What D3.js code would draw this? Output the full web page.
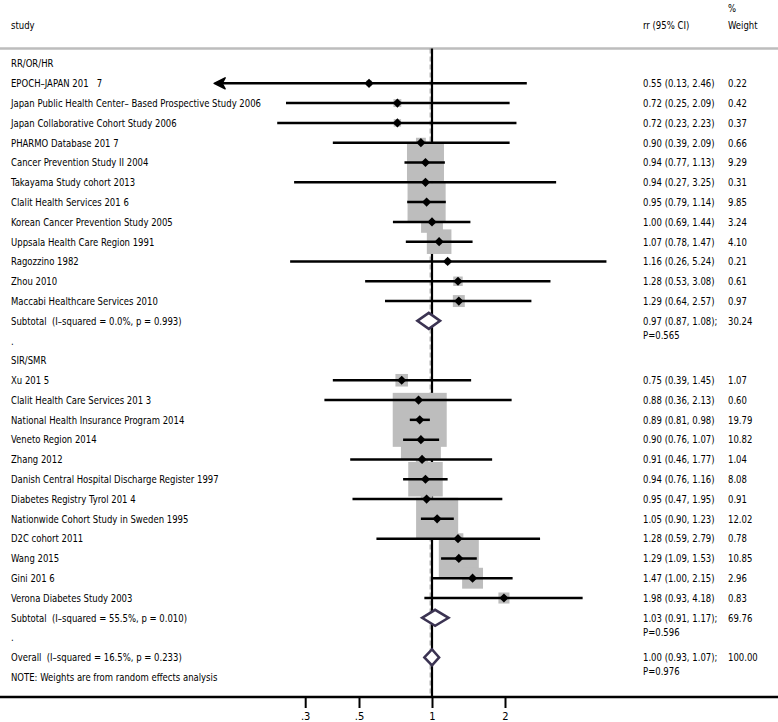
<!DOCTYPE html>
<html>
<head>
<meta charset="utf-8">
<script src="https://cdn.jsdelivr.net/npm/d3@7"></script>
<style>
  html, body { margin: 0; padding: 0; background: #fff; }
  svg text { font-family: "DejaVu Sans Condensed", "DejaVu Sans", sans-serif; font-size: 11px; fill: #000; white-space: pre; }
</style>
</head>
<body>
<svg id="chart" width="778" height="722"></svg>
<script>
// ---------------- DATA ----------------
const group1Title = "RR/OR/HR";
const group1Studies = [
  "EPOCH\u2013JAPAN 201   7",
  "Japan Public Health Center\u2013 Based Prospective Study 2006",
  "Japan Collaborative Cohort Study 2006",
  "PHARMO Database 201 7",
  "Cancer Prevention Study II 2004",
  "Takayama Study cohort 2013",
  "Clalit Health Services 201 6",
  "Korean Cancer Prevention Study 2005",
  "Uppsala Health Care Region 1991",
  "Ragozzino 1982",
  "Zhou 2010",
  "Maccabi Healthcare Services 2010"
];
const group1RR = [0.55, 0.72, 0.72, 0.90, 0.94, 0.94, 0.95, 1.00, 1.07, 1.16, 1.28, 1.29];
const group1Lo = [0.13, 0.25, 0.23, 0.39, 0.77, 0.27, 0.79, 0.69, 0.78, 0.26, 0.53, 0.64];
const group1Hi = [2.46, 2.09, 2.23, 2.09, 1.13, 3.25, 1.14, 1.44, 1.47, 5.24, 3.08, 2.57];
const group1W  = [0.22, 0.42, 0.37, 0.66, 9.29, 0.31, 9.85, 3.24, 4.10, 0.21, 0.61, 0.97];
const group1Sub = { label: "Subtotal  (I\u2013squared = 0.0%, p = 0.993)", rr: 0.97, lo: 0.87, hi: 1.08, p: "P=0.565", w: 30.24 };

const group2Title = "SIR/SMR";
const group2Studies = [
  "Xu 201 5",
  "Clalit Health Care Services 201 3",
  "National Health Insurance Program 2014",
  "Veneto Region 2014",
  "Zhang 2012",
  "Danish Central Hospital Discharge Register 1997",
  "Diabetes Registry Tyrol 201 4",
  "Nationwide Cohort Study in Sweden 1995",
  "D2C cohort 2011",
  "Wang 2015",
  "Gini 201 6",
  "Verona Diabetes Study 2003"
];
const group2RR = [0.75, 0.88, 0.89, 0.90, 0.91, 0.94, 0.95, 1.05, 1.28, 1.29, 1.47, 1.98];
const group2Lo = [0.39, 0.36, 0.81, 0.76, 0.46, 0.76, 0.47, 0.90, 0.59, 1.09, 1.00, 0.93];
const group2Hi = [1.45, 2.13, 0.98, 1.07, 1.77, 1.16, 1.95, 1.23, 2.79, 1.53, 2.15, 4.18];
const group2W  = [1.07, 0.60, 19.79, 10.82, 1.04, 8.08, 0.91, 12.02, 0.78, 10.85, 2.96, 0.83];
const group2Sub = { label: "Subtotal  (I\u2013squared = 55.5%, p = 0.010)", rr: 1.03, lo: 0.91, hi: 1.17, p: "P=0.596", w: 69.76 };

const overall = { label: "Overall  (I\u2013squared = 16.5%, p = 0.233)", rr: 1.00, lo: 0.93, hi: 1.07, p: "P=0.976", w: 100.00 };
const noteText = "NOTE: Weights are from random effects analysis";

const tickValues = [0.3, 0.5, 1, 2];
const tickLabels = [".3", ".5", "1", "2"];
const arrowBelow = 0.15;   // CIs below this are drawn with an arrow

// ---------------- BUILD ROWS ----------------
const fmt = d3.format(".2f");
const rows = [];
rows.push({ type: "title", label: group1Title });
group1Studies.forEach((s, i) => rows.push({ type: "study", label: s, rr: group1RR[i], lo: group1Lo[i], hi: group1Hi[i], w: group1W[i] }));
rows.push(Object.assign({ type: "sum" }, group1Sub));
rows.push({ type: "dot", label: "." });
rows.push({ type: "title", label: group2Title });
group2Studies.forEach((s, i) => rows.push({ type: "study", label: s, rr: group2RR[i], lo: group2Lo[i], hi: group2Hi[i], w: group2W[i] }));
rows.push(Object.assign({ type: "sum" }, group2Sub));
rows.push({ type: "dot", label: "." });
rows.push(Object.assign({ type: "sum" }, overall));
rows.push({ type: "note", label: noteText });
rows.forEach((r, i) => r.idx = i);

// ---------------- SCALES ----------------
const svg = d3.select("#chart");
const W = 778;
const x = d3.scaleLog().domain([0.3, 2]).range([305.2, 505]);
const y = d3.scaleLinear().domain([0, 32]).range([63.5, 697]);
const boxSize = d3.scaleSqrt().domain([0, 19.79]).range([0, 54]);

const colLabel = 11, colRR = 643, colW = 728;
const axisY = y(32);
const topY = 48.5;
const squeeze = 0.86;   // narrow the text horizontally

function place(sel, xf, yf) {
  return sel.attr("x", 0).attr("y", 0).attr("dy", "0.35em")
    .attr("transform", (d, i) => `translate(${typeof xf === "function" ? xf(d, i) : xf},${typeof yf === "function" ? yf(d, i) : yf}) scale(${squeeze},1)`);
}

// header
place(svg.append("text"), colLabel, 25).text("study");
place(svg.append("text"), colRR, 25).text("rr (95% CI)");
place(svg.append("text"), colW, 8).text("%");
place(svg.append("text"), colW, 25).text("Weight");
svg.append("line").attr("x1", 0).attr("x2", W).attr("y1", topY).attr("y2", topY)
  .attr("stroke", "#bdbdbd").attr("stroke-width", 2.5);

// null line & overall dashed line
svg.append("line").attr("x1", x(1)).attr("x2", x(1)).attr("y1", topY).attr("y2", axisY)
  .attr("stroke", "#000").attr("stroke-width", 2.2);
svg.append("line").attr("x1", x(overall.rr) - 1.8).attr("x2", x(overall.rr) - 1.8).attr("y1", topY).attr("y2", axisY)
  .attr("stroke", "#8a8a8a").attr("stroke-width", 1).attr("stroke-dasharray", "5,3");

const studies = rows.filter(r => r.type === "study");

// weight boxes
svg.append("g").selectAll("rect").data(studies).join("rect")
  .attr("x", d => x(d.rr) - boxSize(d.w) / 2)
  .attr("y", d => y(d.idx) - boxSize(d.w) / 2)
  .attr("width", d => boxSize(d.w))
  .attr("height", d => boxSize(d.w))
  .attr("fill", "#bdbdbd");

// CI lines
svg.append("g").selectAll("line").data(studies).join("line")
  .attr("x1", d => x(d.lo)).attr("x2", d => x(d.hi))
  .attr("y1", d => y(d.idx)).attr("y2", d => y(d.idx))
  .attr("stroke", "#000").attr("stroke-width", 2.5);

// arrows for truncated CIs
svg.append("g").selectAll("path").data(studies.filter(d => d.lo < arrowBelow)).join("path")
  .attr("d", d => {
    const tx = x(d.lo) - 3, ty = y(d.idx);
    return `M${tx},${ty} L${tx + 11},${ty - 5.5} L${tx + 8},${ty} L${tx + 11},${ty + 5.5} Z`;
  })
  .attr("fill", "#000").attr("stroke", "#000").attr("stroke-width", 1.5).attr("stroke-linejoin", "round");

// point markers
svg.append("g").selectAll("path").data(studies).join("path")
  .attr("d", d => {
    const cx = x(d.rr), cy = y(d.idx), h = 4.6;
    return `M${cx - h},${cy} L${cx},${cy - h} L${cx + h},${cy} L${cx},${cy + h} Z`;
  })
  .attr("fill", "#000");

// summary diamonds
const sums = rows.filter(r => r.type === "sum");
svg.append("g").selectAll("path").data(sums).join("path")
  .attr("d", d => {
    const cy = y(d.idx), h = 8;
    return `M${x(d.lo)},${cy} L${x(d.rr)},${cy - h} L${x(d.hi)},${cy} L${x(d.rr)},${cy + h} Z`;
  })
  .attr("fill", "#fff").attr("stroke", "#3b3352").attr("stroke-width", 2.5);

// left labels
place(svg.append("g").selectAll("text").data(rows).join("text"), colLabel, d => y(d.idx))
  .text(d => d.label);

// right columns
const valued = rows.filter(r => r.type === "study" || r.type === "sum");
place(svg.append("g").selectAll("text").data(valued).join("text"), colRR, d => y(d.idx))
  .text(d => `${fmt(d.rr)} (${fmt(d.lo)}, ${fmt(d.hi)})${d.type === "sum" ? ";" : ""}`);
place(svg.append("g").selectAll("text").data(sums).join("text"), colRR, d => y(d.idx) + 14)
  .text(d => d.p);
place(svg.append("g").selectAll("text").data(valued).join("text"), colW, d => y(d.idx))
  .text(d => fmt(d.w));

// axis
svg.append("line").attr("x1", 0).attr("x2", W).attr("y1", axisY).attr("y2", axisY)
  .attr("stroke", "#000").attr("stroke-width", 2.5);
const axis = d3.axisBottom(x).tickValues(tickValues).tickFormat((d, i) => tickLabels[i]).tickSize(11).tickPadding(4);
const ag = svg.append("g").attr("transform", `translate(0,${axisY})`).call(axis);
ag.select(".domain").remove();
ag.selectAll(".tick line").attr("stroke", "#000").attr("stroke-width", 2);
ag.selectAll(".tick text").attr("font-family", null).attr("font-size", null).style("fill", "#000");
</script>
</body>
</html>
